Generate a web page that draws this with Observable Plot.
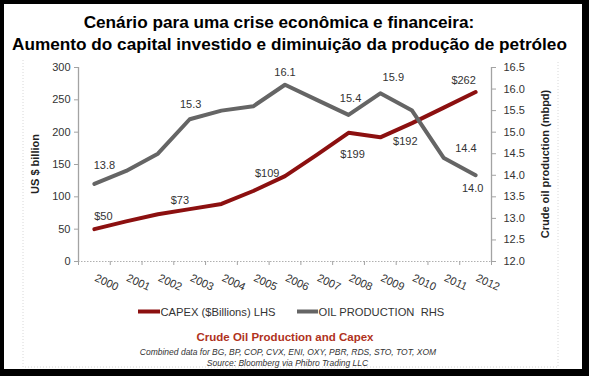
<!DOCTYPE html>
<html>
<head>
<meta charset="utf-8">
<script src="https://cdn.jsdelivr.net/npm/d3@7"></script>
<script src="https://cdn.jsdelivr.net/npm/@observablehq/plot@0.6"></script>
<style>
  html, body { margin: 0; padding: 0; background: #fff; }
  #chart svg { display: block; }
</style>
</head>
<body>
<div id="chart"></div>
<script>
// ---- data ----
const years = [2000, 2001, 2002, 2003, 2004, 2005, 2006, 2007, 2008, 2009, 2010, 2011, 2012];
const capex = [50, 62, 73, 81, 89, 109, 132, 165, 199, 192, 214, 238, 262];
const oilProduction = [13.8, 14.1, 14.5, 15.3, 15.5, 15.6, 16.1, 15.75, 15.4, 15.9, 15.5, 14.4, 14.0];
const leftTicks = [0, 50, 100, 150, 200, 250, 300];
const rightTicks = [12.0, 12.5, 13.0, 13.5, 14.0, 14.5, 15.0, 15.5, 16.0, 16.5];
const titleLines = [
  "Cenário para uma crise econômica e financeira:",
  "Aumento do capital investido e diminuição da produção de petróleo"
];
const leftAxisTitle = "US $ billion";
const rightAxisTitle = "Crude oil production (mbpd)";
const legendLabels = ["CAPEX ($Billions) LHS", "OIL PRODUCTION  RHS"];
const captionTitle = "Crude Oil Production and Capex";
const captionLines = [
  "Combined data for BG, BP, COP, CVX, ENI, OXY, PBR, RDS, STO, TOT, XOM",
  "Source: Bloomberg via Phibro Trading LLC"
];
// which points carry a value label, and where the label sits relative to it
const capexLabelYears = [2000, 2002, 2005, 2008, 2009, 2012];
const oilLabelYears = [2000, 2003, 2006, 2008, 2009, 2011, 2012];
const capexLabelOffsets = [[9, -13], [22, -14], [14, -18], [4, 22], [25, 4], [-12, -12]];
const oilLabelOffsets = [[10, -18], [1, -15], [0, -12], [2, -16], [13, -16], [22, -10], [-3, 13]];

// ---- helpers ----
const OIL_MIN = rightTicks[0], OIL_MAX = rightTicks[rightTicks.length - 1];
const CAP_MAX = leftTicks[leftTicks.length - 1];
const toLeft = v => (v - OIL_MIN) / (OIL_MAX - OIL_MIN) * CAP_MAX;
const fromLeft = v => OIL_MIN + v / CAP_MAX * (OIL_MAX - OIL_MIN);
const rows = years.map((year, i) => ({year, capex: capex[i], oil: oilProduction[i]}));
const boundaries = d3.range(years.length + 1).map(i => years[0] - 0.5 + i);

const RED = "#8c1010", GRAY = "#656565", TXT = "#333333", AX = "#a3a3a3";
const FONT = "'Liberation Sans', Arial, Helvetica, sans-serif";

const labelMarks = [
  ...capexLabelYears.map((yr, k) => Plot.text(rows.filter(r => r.year === yr), {
    x: "year", y: "capex", text: d => "$" + d.capex,
    dx: capexLabelOffsets[k][0], dy: capexLabelOffsets[k][1], fill: TXT, fontSize: 11
  })),
  ...oilLabelYears.map((yr, k) => Plot.text(rows.filter(r => r.year === yr), {
    x: "year", y: d => toLeft(d.oil), text: d => d.oil.toFixed(1),
    dx: oilLabelOffsets[k][0], dy: oilLabelOffsets[k][1], fill: TXT, fontSize: 11
  }))
];

const chart = Plot.plot({
  width: 589, height: 376,
  marginLeft: 78, marginRight: 98, marginTop: 67, marginBottom: 115,
  style: {fontFamily: FONT, fontSize: "11px", background: "#fff", overflow: "visible"},
  x: {type: "linear", domain: [boundaries[0], boundaries[boundaries.length - 1]]},
  y: {domain: [0, CAP_MAX]},
  marks: [
    Plot.ruleY([0], {stroke: "#b0b0b0", strokeDasharray: "1.5,1.5"}),
    Plot.ruleX([boundaries[0], boundaries[boundaries.length - 1]], {stroke: AX, strokeWidth: 1.3}),
    Plot.axisY({ticks: leftTicks, anchor: "left", tickSize: 4, tickPadding: 4, label: null,
      stroke: AX, fill: TXT, fontSize: 11}),
    Plot.axisY({ticks: rightTicks.map(toLeft), tickFormat: d => fromLeft(d).toFixed(1),
      anchor: "right", tickSize: 4, tickPadding: 8, label: null, stroke: AX, fill: TXT, fontSize: 11}),
    Plot.axisX({ticks: boundaries, tickSize: 4, tickFormat: () => "", label: null, stroke: AX}),
    Plot.text(years, {x: d => d, frameAnchor: "bottom", text: d => String(d), rotate: 25,
      textAnchor: "start", lineAnchor: "top", dx: 3, dy: 12, fill: TXT, fontSize: 11}),
    Plot.line(rows, {x: "year", y: "capex", stroke: RED, strokeWidth: 4, strokeLinejoin: "round"}),
    Plot.line(rows, {x: "year", y: d => toLeft(d.oil), stroke: GRAY, strokeWidth: 4, strokeLinejoin: "round"}),
    ...labelMarks
  ]
});

document.getElementById("chart").appendChild(chart);

// ---- surrounding texts ----
const svg = d3.select(chart);
const g = svg.append("g").attr("font-family", FONT).attr("text-anchor", "start");

// faint dotted inner frame
g.append("path")
  .attr("d", "M23,60V367H558V60")
  .attr("fill", "none").attr("stroke", "#d8d8d8").attr("stroke-dasharray", "1,2");

// title
g.append("text").attr("x", 279).attr("y", 28).attr("text-anchor", "middle")
  .attr("font-size", 17.2).attr("font-weight", "bold").attr("fill", "#000").text(titleLines[0]);
g.append("text").attr("x", 289.5).attr("y", 50).attr("text-anchor", "middle")
  .attr("font-size", 17.2).attr("font-weight", "bold").attr("fill", "#000").text(titleLines[1]);

// axis titles
g.append("text").attr("transform", "translate(39,164) rotate(-90)").attr("text-anchor", "middle")
  .attr("font-size", 11).attr("font-weight", "bold").attr("fill", "#222").text(leftAxisTitle);
g.append("text").attr("transform", "translate(549,164) rotate(-90)").attr("text-anchor", "middle")
  .attr("font-size", 11).attr("font-weight", "bold").attr("fill", "#222").text(rightAxisTitle);

// legend
const legendItems = [
  {x0: 138, x1: 160, color: RED, label: legendLabels[0]},
  {x0: 297, x1: 318, color: GRAY, label: legendLabels[1]}
];
legendItems.forEach(it => {
  g.append("line").attr("x1", it.x0).attr("x2", it.x1).attr("y1", 311.5).attr("y2", 311.5)
    .attr("stroke", it.color).attr("stroke-width", 4);
  g.append("text").attr("x", it.x1 + 0.5).attr("y", 315.5).attr("font-size", 11.2)
    .attr("text-anchor", "start")
    .attr("fill", TXT).style("white-space", "pre").text(it.label);
});

// caption
g.append("text").attr("x", 285).attr("y", 341).attr("text-anchor", "middle")
  .attr("font-size", 11.5).attr("font-weight", "bold").attr("fill", "#b0321c").text(captionTitle);
g.append("text").attr("x", 288).attr("y", 355).attr("text-anchor", "middle")
  .attr("font-size", 8.5).attr("font-style", "italic").attr("fill", "#333").text(captionLines[0]);
g.append("text").attr("x", 287.5).attr("y", 365.5).attr("text-anchor", "middle")
  .attr("font-size", 8.5).attr("font-style", "italic").attr("fill", "#333").text(captionLines[1]);

// black outer border
const B = svg.append("g").attr("fill", "#000");
B.append("rect").attr("x", 0).attr("y", 0).attr("width", 589).attr("height", 4);
B.append("rect").attr("x", 0).attr("y", 0).attr("width", 4).attr("height", 376);
B.append("rect").attr("x", 582).attr("y", 0).attr("width", 7).attr("height", 376);
B.append("rect").attr("x", 0).attr("y", 369).attr("width", 589).attr("height", 7);
</script>
</body>
</html>
